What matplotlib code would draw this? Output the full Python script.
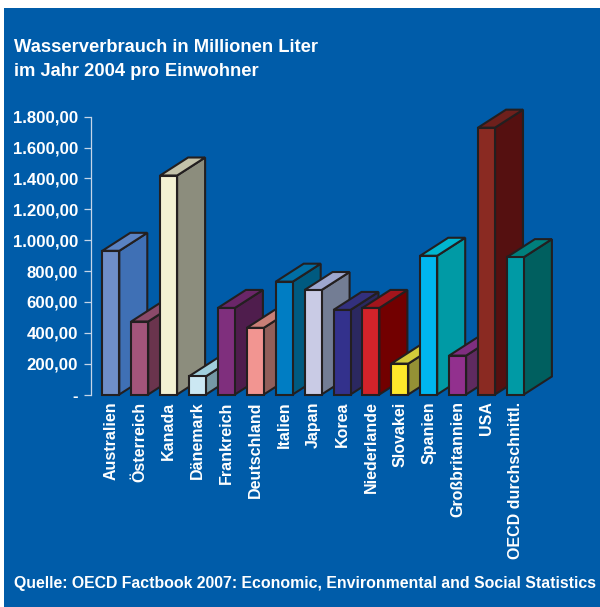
import matplotlib
matplotlib.use("Agg")
import matplotlib.pyplot as plt
from matplotlib.patches import Polygon, Rectangle

W, H = 600, 607
countries = ["Australien", "Österreich", "Kanada", "Dänemark", "Frankreich", "Deutschland",
             "Italien", "Japan", "Korea", "Niederlande", "Slovakei", "Spanien",
             "Großbritannien", "USA", "OECD durchschnittl."]
values = [931, 473, 1419, 118, 561, 432, 731, 677, 548, 561, 200, 899, 252, 1729, 890]
tick_values = [0, 200, 400, 600, 800, 1000, 1200, 1400, 1600, 1800]
tick_labels = ["-", "200,00", "400,00", "600,00", "800,00", "1.000,00", "1.200,00",
               "1.400,00", "1.600,00", "1.800,00"]
front_colors = ["#6f8ec8", "#a3557b", "#f3f1d3", "#cce8f3", "#7f2f7d", "#f29591", "#007dc3", "#c9cbe5",
                "#33318c", "#d2232a", "#ffe92b", "#00b6f0", "#92308e", "#8a2a22", "#009aa5"]
side_colors = ["#3f70b5", "#6a344d", "#8c8d7d", "#7599a5", "#4f1d4d", "#915f5a", "#005a80", "#737d94",
               "#2b2860", "#720000", "#949135", "#009aa5", "#5f2a60", "#551010", "#005f5f"]
top_colors = ["#5a82c2", "#8b4a6a", "#c3c2aa", "#a0cfdd", "#6a2668", "#c97f77", "#006ea5", "#9ea7cf",
              "#33307d", "#a3151c", "#d2cb3a", "#00b5d0", "#7f2e80", "#6e201c", "#007f7c"]

plt.rcParams["font.family"] = ["Liberation Sans", "DejaVu Sans"]
plt.rcParams["font.weight"] = "bold"
BLUE = "#005ca9"
AXIS = "#c5d5e8"
EDGE = "#231f20"

fig = plt.figure(figsize=(W / 100, H / 100), dpi=100, facecolor="white")
fig.add_artist(Rectangle((4 / W, 0), 1 - 4 / W, 1 - 8 / H, transform=fig.transFigure,
                         facecolor=BLUE, edgecolor="none", zorder=-5))

# pixel frame of the axes
x0, x1, y_top, y_base = 90.5, 600, 116.7, 394.5
ax = fig.add_axes([x0 / W, 1 - y_base / H, (x1 - x0) / W, (y_base - y_top) / H])
step = 28.9
c0 = 110.8
ax.set_xlim((x0 - c0) / step, (x1 - c0) / step)
ax.set_ylim(0, 1800)
ax.patch.set_visible(False)
for s in ["top", "right", "bottom"]:
    ax.spines[s].set_visible(False)
ax.spines["left"].set_color(AXIS)
ax.spines["left"].set_linewidth(0.9)

bw = 17 / step
dx = 28 / step
dy = 18 * 1800 / (y_base - y_top)

for i, v in enumerate(values):
    l, r = i - bw / 2, i + bw / 2
    kw = dict(edgecolor=EDGE, linewidth=1.5, joinstyle="miter", clip_on=False)
    ax.add_patch(Polygon([(r, 0), (r + dx, dy), (r + dx, v + dy), (r, v)], facecolor=side_colors[i], zorder=3 + i, **kw))
    ax.add_patch(Polygon([(l, v), (l + dx, v + dy), (r + dx, v + dy), (r, v)], facecolor=top_colors[i], zorder=3 + i, **kw))
    ax.add_patch(Polygon([(l, 0), (r, 0), (r, v), (l, v)], facecolor=front_colors[i], zorder=3 + i, **kw))

ax.set_yticks(tick_values)
ax.set_yticklabels(tick_labels, fontsize=12.1, color="white", fontweight="bold")
ax.tick_params(axis="y", length=5, width=0.9, color=AXIS, pad=4)
ax.set_xticks(range(len(countries)))
ax.set_xticklabels(countries, rotation=90, fontsize=11.55, color="white", fontweight="bold",
                   ha="center", va="top")
ax.tick_params(axis="x", length=0, pad=5)

fig.text(14 / W, 1 - 52 / H, "Wasserverbrauch in Millionen Liter", color="white", fontsize=13.2,
         fontweight="bold", va="baseline")
fig.text(14 / W, 1 - 76.5 / H, "im Jahr 2004 pro Einwohner", color="white", fontsize=13.2,
         fontweight="bold", va="baseline")
fig.text(14 / W, 1 - 588 / H, "Quelle: OECD Factbook 2007: Economic, Environmental and Social Statistics",
         color="white", fontsize=11.4, fontweight="bold", va="baseline")

fig.savefig("out.png", dpi=100, facecolor="white")
